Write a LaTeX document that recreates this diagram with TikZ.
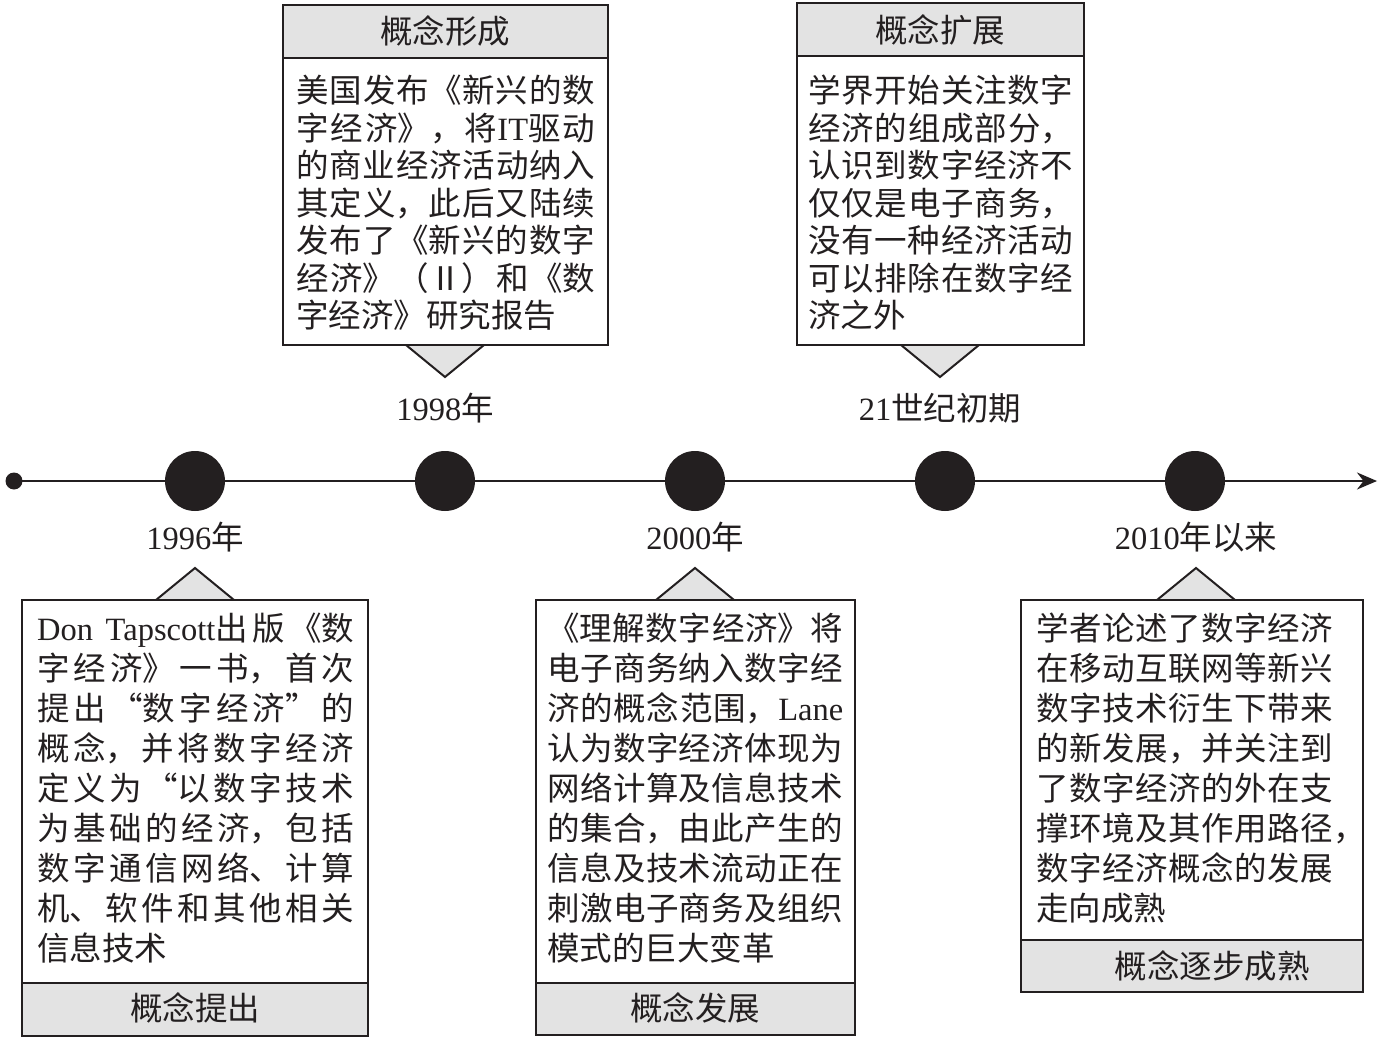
\documentclass[tikz,border=0pt]{standalone}
\usepackage{fontspec}
\setmainfont{Noto Sans CJK SC}
\newfontfamily\lat{Liberation Serif}
\usetikzlibrary{arrows.meta}
\definecolor{band}{HTML}{E3E3E3}
\definecolor{ink}{HTML}{231F20}
\XeTeXlinebreaklocale "zh"
\XeTeXlinebreakskip=0pt plus 4pt
\newcommand{\nl}{\linebreak}
\begin{document}
\begin{tikzpicture}[x=1pt,y=-1pt,
  frame/.style={draw=ink, fill=white, line width=2pt},
  bandbox/.style={draw=ink, fill=band, line width=2pt},
  tri/.style={draw=ink, fill=band, line width=2pt, line join=miter},
  bodyA/.style={anchor=north west, inner sep=0pt, align=justify, text=ink, font=\fontsize{32.5}{40}\selectfont},
  bodyB/.style={anchor=north west, inner sep=0pt, align=justify, text=ink, font=\fontsize{32.5}{37.5}\selectfont},
  head/.style={inner sep=0pt, text=ink, font=\fontsize{32.5}{38}\selectfont},
  year/.style={inner sep=0pt, text=ink, font=\fontsize{32.5}{38}\selectfont},
  bigdot/.style={circle, fill=ink, inner sep=0pt, minimum size=60pt},
  smalldot/.style={circle, fill=ink, inner sep=0pt, minimum size=17pt}]
\useasboundingbox (0,0) rectangle (1380,1040);

% timeline
\node[smalldot] (s) at (14,481) {};
\coordinate (e) at (1377,481);
\draw[ink, line width=2.2pt, -{Stealth[length=20pt,width=17pt]}] (s.center) -- (e);
\node[bigdot] (d1) at (195,481) {};
\node[bigdot] (d2) at (445,481) {};
\node[bigdot] (d3) at (695,481) {};
\node[bigdot] (d4) at (945,481) {};
\node[bigdot] (d5) at (1195,481) {};

% year labels
\node[year] (y1) at (195,537) {{\lat 1996}年};
\node[year] (y2) at (445,408) {{\lat 1998}年};
\node[year] (y3) at (695,537) {{\lat 2000}年};
\node[year] (y4) at (940,408) {{\lat 21}世纪初期};
\node[year] (y5) at (1196,537) {{\lat 2010}年以来};

% ---------- box 1 (1996)
\draw[tri] (156,600) -- (195,568) -- (234,600);
\draw[frame] (22,600) rectangle (368,1036);
\draw[bandbox] (22,983) rectangle (368,1036);
\node[bodyA, text width=317pt] (t1) at (37,613) {{\lat Don Tapscott}出版《数\nl 字经济》一书，首次\nl 提出“数字经济”的\nl 概念，并将数字经济\nl 定义为“以数字技术\nl 为基础的经济，包括\nl 数字通信网络、计算\nl 机、软件和其他相关\nl 信息技术};
\node[head] (h1) at (195,1008) {概念提出};

% ---------- box 2 (1998)
\draw[tri] (406,345) -- (445,377) -- (484,345);
\draw[frame] (283,5) rectangle (608,345);
\draw[bandbox] (283,5) rectangle (608,58);
\node[head] (h2) at (445,31) {概念形成};
\node[bodyB, text width=299pt] (t2) at (296,75) {美国发布《新兴的数\nl 字经济》，将{\lat IT}驱动\nl 的商业经济活动纳入\nl 其定义，此后又陆续\nl 发布了《新兴的数字\nl 经济》（Ⅱ）和《数\nl 字经济》研究报告};

% ---------- box 3 (21st century)
\draw[tri] (901,345) -- (940,377) -- (979,345);
\draw[frame] (797,3) rectangle (1084,345);
\draw[bandbox] (797,3) rectangle (1084,56);
\node[head] (h3) at (940,30) {概念扩展};
\node[bodyB, text width=265pt] (t3) at (808,75) {学界开始关注数字\nl 经济的组成部分，\nl 认识到数字经济不\nl 仅仅是电子商务，\nl 没有一种经济活动\nl 可以排除在数字经\nl 济之外};

% ---------- box 4 (2000)
\draw[tri] (656,600) -- (695,568) -- (734,600);
\draw[frame] (536,600) rectangle (855,1035);
\draw[bandbox] (536,983) rectangle (855,1035);
\node[bodyA, text width=296pt] (t4) at (547,613) {《理解数字经济》将\nl 电子商务纳入数字经\nl 济的概念范围，{\lat Lane}\nl 认为数字经济体现为\nl 网络计算及信息技术\nl 的集合，由此产生的\nl 信息及技术流动正在\nl 刺激电子商务及组织\nl 模式的巨大变革};
\node[head] (h4) at (695,1008) {概念发展};

% ---------- box 5 (2010)
\draw[tri] (1157,600) -- (1196,568) -- (1235,600);
\draw[frame] (1021,600) rectangle (1363,992);
\draw[bandbox] (1021,940) rectangle (1363,992);
\node[bodyA, text width=297pt] (t5) at (1036,613) {学者论述了数字经济\nl 在移动互联网等新兴\nl 数字技术衍生下带来\nl 的新发展，并关注到\nl 了数字经济的外在支\nl 撑环境及其作用路径\rlap{，}\nl 数字经济概念的发展\nl 走向成熟};
\node[head] (h5) at (1212,966) {概念逐步成熟};
\end{tikzpicture}
\end{document}
